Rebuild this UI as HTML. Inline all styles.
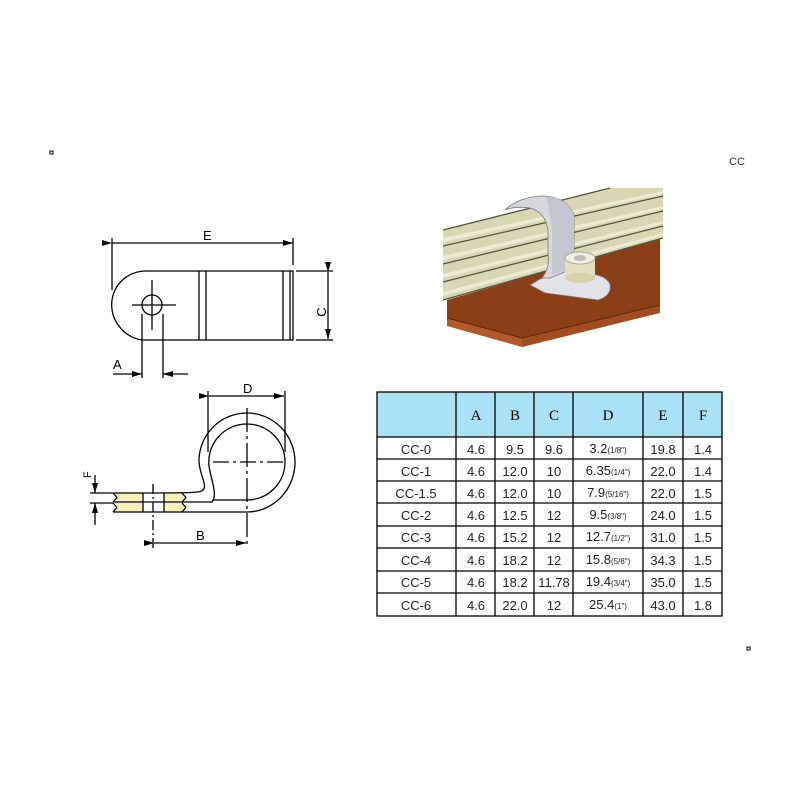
<!DOCTYPE html>
<html><head><meta charset="utf-8"><style>
html,body{margin:0;padding:0;background:#fff;}
svg{display:block}
</style></head><body>
<svg width="800" height="800" viewBox="0 0 800 800" xmlns="http://www.w3.org/2000/svg" font-family="Liberation Sans, sans-serif">
<defs>
<marker id="ar" markerWidth="10" markerHeight="8" refX="10" refY="4" orient="auto" markerUnits="userSpaceOnUse">
<path d="M0,1 L10,4 L0,7 Z" fill="#000"/></marker>
</defs>
<rect width="800" height="800" fill="#fff"/>
<rect x="50" y="151" width="3" height="3" fill="none" stroke="#000" stroke-width="1"/>
<rect x="747" y="647" width="3" height="3" fill="none" stroke="#000" stroke-width="1"/>
<text x="729" y="165" font-size="11" fill="#333">CC</text>

<!-- Top drawing -->
<g stroke="#000" stroke-width="1.3" fill="none">
<line x1="112" y1="238" x2="112" y2="290"/>
<line x1="293" y1="238" x2="293" y2="265"/>
<line x1="112" y1="243" x2="293" y2="243" marker-start="url(#ar)" marker-end="url(#ar)"/>
<path d="M147,271 L293,271 L293,340 L142,340 A36,36 0 0 1 112,300 A34,34 0 0 1 147,271 Z"/>
<line x1="199" y1="271" x2="199" y2="340"/><line x1="206" y1="271" x2="206" y2="340"/>
<line x1="283" y1="271" x2="283" y2="340"/><line x1="290" y1="271" x2="290" y2="340"/>
<circle cx="152" cy="305" r="10"/>
<line x1="152" y1="280" x2="152" y2="330"/><line x1="132" y1="305" x2="176" y2="305"/>
<line x1="296" y1="271" x2="333" y2="271"/><line x1="296" y1="340" x2="333" y2="340"/>
<line x1="328" y1="272" x2="328" y2="339" marker-start="url(#ar)" marker-end="url(#ar)"/>
<line x1="142" y1="314" x2="142" y2="378"/><line x1="163" y1="314" x2="163" y2="378"/>
<line x1="113" y1="374" x2="142" y2="374" marker-end="url(#ar)"/>
<line x1="188" y1="374" x2="163" y2="374" marker-end="url(#ar)"/>
</g>
<text x="203" y="240" font-size="13">E</text>
<text x="322" y="312" font-size="13" transform="rotate(-90 322 312)" text-anchor="middle" dy="4">C</text>
<text x="113" y="369" font-size="13">A</text>

<!-- Bottom drawing -->
<polygon points="113,493 143,493 143,502 113,502 117,497.5" fill="#f6f0b9"/>
<polygon points="113,503 143,503 143,512 113,512 117,507.5" fill="#f6f0b9"/>
<polygon points="164,493 182,493 186,497.5 182,502 164,502" fill="#f6f0b9"/>
<polygon points="164,503 182,503 186,507.5 182,512 164,512" fill="#f6f0b9"/>
<g stroke="#000" stroke-width="1.3" fill="none">
<path d="M113,512 L247,512 A48,50 0 0 0 295,462 A48,49 0 0 0 247,413 A48,48 0 0 0 199,460 C199,475 208,485 203,490 C200,493 195,493 113,493"/>
<path d="M113,502 L212,502 C218,495 211,480 209,466 A38,38 0 0 1 247,424 A38,38 0 0 1 285,462 A38,38 0 0 1 247,500 L212,500"/>
<line x1="143" y1="493" x2="143" y2="512"/><line x1="164" y1="493" x2="164" y2="512"/>
<line x1="113" y1="493" x2="117" y2="497.5"/><line x1="117" y1="497.5" x2="113" y2="502"/>
<line x1="113" y1="503" x2="117" y2="507.5"/><line x1="117" y1="507.5" x2="113" y2="512"/>
<line x1="182" y1="493" x2="186" y2="497.5"/><line x1="186" y1="497.5" x2="182" y2="502"/>
<line x1="182" y1="503" x2="186" y2="507.5"/><line x1="186" y1="507.5" x2="182" y2="512"/>
<line x1="153" y1="484" x2="153" y2="548" stroke-dasharray="10,3,2,3"/>
<line x1="247" y1="408" x2="247" y2="548" stroke-dasharray="24,4,3,4"/>
<line x1="213" y1="462" x2="285" y2="462" stroke-dasharray="16,4,3,4"/>
<line x1="208" y1="391" x2="208" y2="452"/><line x1="285" y1="391" x2="285" y2="452"/>
<line x1="209" y1="396" x2="284" y2="396" marker-start="url(#ar)" marker-end="url(#ar)"/>
<line x1="154" y1="543" x2="246" y2="543" marker-start="url(#ar)" marker-end="url(#ar)"/>
<line x1="90" y1="493" x2="113" y2="493"/><line x1="90" y1="503" x2="113" y2="503"/>
<line x1="95" y1="475" x2="95" y2="493" marker-end="url(#ar)"/>
<line x1="95" y1="525" x2="95" y2="503" marker-end="url(#ar)"/>
</g>
<text x="243" y="393" font-size="13">D</text>
<text x="196" y="540" font-size="13">B</text>
<text x="91" y="478" font-size="11" transform="rotate(-90 91 478)">F</text>

<!-- Photo -->
<g>
<polygon points="447,300 660,238 660,305 522,338 447,318" fill="#8b3f17"/>
<polygon points="447,318 522,338 522,347 447,326" fill="#b45a2a"/>
<polygon points="522,338 660,305 660,313 522,347" fill="#a04d22"/>
<line x1="447" y1="318" x2="522" y2="338" stroke="#5a2a10"/>
<line x1="522" y1="338" x2="660" y2="305" stroke="#5a2a10"/>
<polygon points="443,230 610,188 663,188 663,238 443,300" fill="#d9d7b3"/>
<g stroke="#55563f" stroke-width="1.3">
<line x1="443" y1="246" x2="663" y2="196"/>
<line x1="443" y1="264" x2="663" y2="211"/>
<line x1="443" y1="282" x2="663" y2="226"/>
<line x1="443" y1="300" x2="663" y2="238"/>
<line x1="443" y1="230" x2="610" y2="188"/>
</g>
<polygon points="443,238 663,191 663,194 443,242" fill="#ecebd2"/>
<polygon points="443,256 663,206 663,209 443,260" fill="#ecebd2"/>
<polygon points="443,274 663,221 663,224 443,278" fill="#ecebd2"/>
<polygon points="443,292 663,233 663,236 443,296" fill="#ecebd2"/>
<!-- clip -->
<path d="M540,279 L530,285 L545,293 L598,300 Q612,296 610,284 Q606,276 592,274 L575,268 Z" fill="#e2e3e8" stroke="#777" stroke-width="0.8"/>
<path d="M505,210 Q520,196 545,196 Q568,198 574,215 L574,268 L550,278 L542,278 Q550,268 548,255 L548,230 Q545,212 530,208 Q515,206 505,210 Z" fill="#d6d7de" stroke="#777" stroke-width="0.8"/>
<path d="M545,196 Q568,198 574,215 L574,268 L552,274 L552,232 Q550,205 545,196 Z" fill="#c3c5cf"/>
<ellipse cx="580" cy="258" rx="15" ry="6" fill="#ebe8d3" stroke="#999" stroke-width="0.8"/>
<rect x="565" y="258" width="30" height="20" fill="#e4dfbd"/>
<ellipse cx="580" cy="278" rx="15" ry="5" fill="#d8d2aa"/>
<ellipse cx="580" cy="258" rx="15" ry="6" fill="#f2f0e0" stroke="#999" stroke-width="0.8"/>
<ellipse cx="580" cy="258" rx="6" ry="3" fill="#bbb"/>
</g>

<!-- Table -->
<g font-family="Liberation Sans, sans-serif">
<rect x="377" y="392" width="345" height="45" fill="#a8e2f4"/>
<g stroke="#000" stroke-width="1.3" fill="none">
<rect x="377" y="392" width="345" height="224"/>
<line x1="456" y1="392" x2="456" y2="616"/><line x1="495" y1="392" x2="495" y2="616"/>
<line x1="534" y1="392" x2="534" y2="616"/><line x1="573" y1="392" x2="573" y2="616"/>
<line x1="643" y1="392" x2="643" y2="616"/><line x1="683" y1="392" x2="683" y2="616"/>
<line x1="377" y1="437" x2="722" y2="437"/><line x1="377" y1="459" x2="722" y2="459"/>
<line x1="377" y1="481" x2="722" y2="481"/><line x1="377" y1="503" x2="722" y2="503"/>
<line x1="377" y1="526" x2="722" y2="526"/><line x1="377" y1="548" x2="722" y2="548"/>
<line x1="377" y1="571" x2="722" y2="571"/><line x1="377" y1="593" x2="722" y2="593"/>
</g>
<g font-family="Liberation Serif, serif" font-size="15" text-anchor="middle">
<text x="476" y="420">A</text><text x="515" y="420">B</text><text x="554" y="420">C</text>
<text x="608" y="420">D</text><text x="663" y="420">E</text><text x="703" y="420">F</text>
</g>
<g font-size="13" text-anchor="middle" fill="#222">
<text x="416" y="454">CC-0</text><text x="476" y="454">4.6</text><text x="515" y="454">9.5</text><text x="554" y="454">9.6</text><text x="608" y="453">3.2<tspan font-size="8">(1/8")</tspan></text><text x="663" y="454">19.8</text><text x="703" y="454">1.4</text>
<text x="416" y="476">CC-1</text><text x="476" y="476">4.6</text><text x="515" y="476">12.0</text><text x="554" y="476">10</text><text x="608" y="475">6.35<tspan font-size="8">(1/4")</tspan></text><text x="663" y="476">22.0</text><text x="703" y="476">1.4</text>
<text x="416" y="498">CC-1.5</text><text x="476" y="498">4.6</text><text x="515" y="498">12.0</text><text x="554" y="498">10</text><text x="608" y="497">7.9<tspan font-size="8">(5/16")</tspan></text><text x="663" y="498">22.0</text><text x="703" y="498">1.5</text>
<text x="416" y="520">CC-2</text><text x="476" y="520">4.6</text><text x="515" y="520">12.5</text><text x="554" y="520">12</text><text x="608" y="519">9.5<tspan font-size="8">(3/8")</tspan></text><text x="663" y="520">24.0</text><text x="703" y="520">1.5</text>
<text x="416" y="542">CC-3</text><text x="476" y="542">4.6</text><text x="515" y="542">15.2</text><text x="554" y="542">12</text><text x="608" y="541">12.7<tspan font-size="8">(1/2")</tspan></text><text x="663" y="542">31.0</text><text x="703" y="542">1.5</text>
<text x="416" y="565">CC-4</text><text x="476" y="565">4.6</text><text x="515" y="565">18.2</text><text x="554" y="565">12</text><text x="608" y="564">15.8<tspan font-size="8">(5/8")</tspan></text><text x="663" y="565">34.3</text><text x="703" y="565">1.5</text>
<text x="416" y="587">CC-5</text><text x="476" y="587">4.6</text><text x="515" y="587">18.2</text><text x="554" y="587">11.78</text><text x="608" y="586">19.4<tspan font-size="8">(3/4")</tspan></text><text x="663" y="587">35.0</text><text x="703" y="587">1.5</text>
<text x="416" y="610">CC-6</text><text x="476" y="610">4.6</text><text x="515" y="610">22.0</text><text x="554" y="610">12</text><text x="608" y="609">25.4<tspan font-size="8">(1")</tspan></text><text x="663" y="610">43.0</text><text x="703" y="610">1.8</text>
</g>
</g>
</svg>
</body></html>
